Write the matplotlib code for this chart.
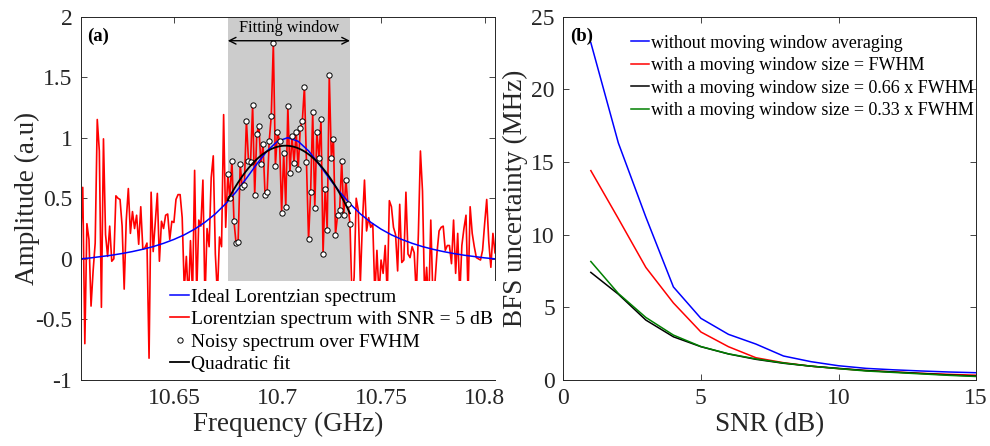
import numpy as np
import matplotlib
matplotlib.use("Agg")
import matplotlib.pyplot as plt

plt.rcParams["font.family"] = ["Liberation Serif", "DejaVu Serif"]
plt.rcParams["font.serif"] = ["Liberation Serif", "DejaVu Serif"]

# ---------------- panel (a) data ----------------
freq_start = 10.605     # GHz
freq_step = 0.001       # GHz
noisy_amp = [
    # 10.605 .. 10.630
    0.18, 0.59, -0.70, 0.29, 0.16, -0.39, -0.10, 0.13, 1.15, 0.89, -0.40, 0.99, 0.20,
    0.02, 0.27, -0.02, 0.00, 0.52, 0.50, 0.49, 0.27, -0.25, 0.32, 0.58, 0.21, 0.39,
    # 10.631 .. 10.653
    0.25, 0.36, 0.12, 0.43, 0.08, 0.09, 0.13, -0.82, 0.55, 0.06, 0.30, 0.54, -0.02,
    0.31, 0.25, 0.36, 0.37, 0.16, 0.31, 0.30, 0.49, 0.53, 0.53,
    # 10.654 .. 10.675
    0.34, -0.25, 0.02, -0.35, 0.15, -0.30, 0.73, -0.30, 0.32, 0.27, 0.65, -0.35, 0.25,
    0.10, 0.67, 0.85, 0.04, -0.30, 0.18, 0.10, 1.19, 0.26,
    # 10.676 .. 10.735 (over FWHM)
    0.70, 0.50, 0.81, 0.31, 0.13, 0.14, 0.78, 0.59, 0.61, 1.14, 0.81, 0.80, 1.27, 0.53,
    1.03, 1.10, 0.78, 0.95, 0.53, 0.55, 0.97, 1.18, 1.78, 0.77, 1.05, 0.97, 0.38, 0.87,
    0.43, 1.26, 0.71, 1.01, 0.79, 1.05, 0.74, 1.08, 1.14, 1.42, 0.80, 0.16, 0.55, 1.21,
    0.42, 1.05, 0.83, 1.15, 0.04, 0.58, 0.24, 1.52, 0.83, 0.99, 0.20, 0.36, 0.40, 0.81,
    0.36, 0.65, 0.45, 0.29,
    # 10.736 .. 10.760
    -0.35, -0.15, 0.50, 0.40, -0.20, 0.30, 0.65, 0.23, 0.34, 0.26, 0.29, -0.30, 0.07,
    -0.30, -0.01, -0.12, 0.11, -0.30, 0.48, 0.43, 0.26, 0.20, -0.10, 0.45, -0.03,
    # 10.761 .. 10.782
    -0.01, 0.55, 0.04, 0.01, 0.10, 0.05, -0.30, 0.20, 0.89, 0.56, -0.30, -0.07, -0.40,
    0.32, -0.30, -0.20, 0.05, 0.23, 0.26, 0.27, 0.07, 0.11,
    # 10.783 .. 10.805
    0.11, -0.04, 0.32, -0.12, 0.21, -0.30, 0.11, 0.25, 0.36, -0.30, 0.43, 0.21, 0.10,
    0.01, 0.00, -0.01, 0.07, 0.29, 0.49, 0.14, -0.07, 0.21, 0.05,
]
ideal_step = 0.005      # GHz
ideal_amp = [
    0.000, 0.008, 0.019, 0.030, 0.044, 0.060, 0.079, 0.101, 0.128, 0.160,
    0.198, 0.245, 0.302, 0.371, 0.455, 0.553, 0.664, 0.782, 0.891, 0.970,
    1.000,
    0.970, 0.891, 0.782, 0.664, 0.553, 0.455, 0.371, 0.302, 0.245, 0.198,
    0.160, 0.128, 0.101, 0.079, 0.060, 0.044, 0.030, 0.019, 0.008, 0.000,
]
fwhm_first = 71         # index of first sample inside the FWHM window
fwhm_last = 130         # index of last sample inside the FWHM window

# ---------------- panel (b) data ----------------
snr_db = [1, 2, 3, 4, 5, 6, 7, 8, 9, 10, 11, 12, 13, 14, 15]
bfs_no_avg = [23.2, 16.3, 11.2, 6.4, 4.24, 3.14, 2.47, 1.65, 1.26, 0.98, 0.80, 0.70, 0.62, 0.55, 0.50]
bfs_fwhm = [14.4, 11.1, 7.74, 5.3, 3.3, 2.29, 1.53, 1.19, 0.95, 0.78, 0.65, 0.55, 0.46, 0.39, 0.33]
bfs_066 = [7.4, 5.9, 4.12, 2.97, 2.29, 1.79, 1.42, 1.15, 0.95, 0.80, 0.65, 0.55, 0.45, 0.35, 0.27]
bfs_033 = [8.15, 5.95, 4.3, 3.09, 2.30, 1.80, 1.45, 1.17, 0.95, 0.78, 0.62, 0.52, 0.42, 0.32, 0.24]

# ---------------- figure ----------------
fig = plt.figure(figsize=(9.9, 4.46), dpi=100)
ax1 = fig.add_axes([0.0815, 0.148, 0.4185, 0.815])
ax2 = fig.add_axes([0.569, 0.148, 0.417, 0.815])

SERIF = ["Liberation Serif", "DejaVu Serif"]
axcol = "#262626"
tick_fs = 17
lab_fs = 19.5

freq = freq_start + freq_step * np.arange(len(noisy_amp))
amp = np.array(noisy_amp)
ideal_f = freq_start + ideal_step * np.arange(len(ideal_amp))
fw = freq[fwhm_first:fwhm_last + 1]
aw = amp[fwhm_first:fwhm_last + 1]
coef = np.polyfit(fw - fw.mean(), aw, 2)
fit = np.polyval(coef, fw - fw.mean())

ax1.axvspan(fw[0], fw[-1], color="#cccccc", lw=0, zorder=0)
l_red, = ax1.plot(freq, amp, color="red", lw=1.2, zorder=2)
l_blue, = ax1.plot(ideal_f, ideal_amp, color="blue", lw=1.1, zorder=2.5)
l_pts, = ax1.plot(fw, aw, ls="none", marker="o", ms=3.8, mfc="white",
                  mec="black", mew=0.7, zorder=3)
l_fit, = ax1.plot(fw, fit, color="black", lw=1.3, zorder=4)

ax1.annotate("", xy=(fw[0], 1.80), xytext=(fw[-1], 1.80),
             arrowprops=dict(arrowstyle="<->", color="black", lw=1.0,
                             mutation_scale=12, shrinkA=0, shrinkB=0), zorder=5)
ax1.text((fw[0] + fw[-1]) / 2, 1.905, "Fitting window", ha="center", va="center",
         fontsize=11.7, color="black", family=SERIF)
ax1.text(0.016, 0.946, "(a)", transform=ax1.transAxes, fontsize=13.5,
         fontweight="bold", va="center", ha="left", family=SERIF)

ax1.set_xlim(freq[0], freq[-1])
ax1.set_ylim(-1, 2)
ax1.set_xticks([10.65, 10.7, 10.75, 10.8])
ax1.set_xticklabels(["10.65", "10.7", "10.75", "10.8"])
ax1.set_yticks([-1, -0.5, 0, 0.5, 1, 1.5, 2])
ax1.set_yticklabels(["-1", "-0.5", "0", "0.5", "1", "1.5", "2"])
ax1.set_xlabel("Frequency (GHz)", fontsize=lab_fs, color=axcol, labelpad=2, family=SERIF)
ax1.set_ylabel("Amplitude (a.u)", fontsize=lab_fs, color=axcol, family=SERIF)
ax1.yaxis.set_label_coords(-0.098, 0.5)

leg1 = ax1.legend([l_blue, l_red, l_pts, l_fit],
                  ["Ideal Lorentzian spectrum", "Lorentzian spectrum with SNR = 5 dB",
                   "Noisy spectrum over FWHM", "Quadratic fit"],
                  loc="lower left", bbox_to_anchor=(0.199, 0.0),
                  prop={"family": SERIF, "size": 14},
                  frameon=True, fancybox=False, framealpha=1, facecolor="white",
                  edgecolor="none", handlelength=1.0, handletextpad=0.1,
                  labelspacing=0.25, borderpad=0.35, borderaxespad=0)
leg1.set_zorder(10)

ax2.plot(snr_db, bfs_no_avg, color="blue", lw=1.1, label="without moving window averaging")
ax2.plot(snr_db, bfs_fwhm, color="red", lw=1.1, label="with a moving window size = FWHM")
ax2.plot(snr_db, bfs_066, color="black", lw=1.1, label="with a moving window size = 0.66 x FWHM")
ax2.plot(snr_db, bfs_033, color="green", lw=1.1, label="with a moving window size = 0.33 x FWHM")
ax2.set_xlim(0, 15)
ax2.set_ylim(0, 25)
ax2.set_xticks([0, 5, 10, 15])
ax2.set_yticks([0, 5, 10, 15, 20, 25])
ax2.set_xticklabels(["0", "5", "10", "15"])
ax2.set_yticklabels(["0", "5", "10", "15", "20", "25"])
ax2.set_xlabel("SNR (dB)", fontsize=lab_fs, color=axcol, labelpad=2, family=SERIF)
ax2.set_ylabel("BFS uncertainty (MHz)", fontsize=lab_fs, color=axcol, family=SERIF)
ax2.yaxis.set_label_coords(-0.085, 0.5)
ax2.text(0.017, 0.945, "(b)", transform=ax2.transAxes, fontsize=13.5,
         fontweight="bold", va="center", ha="left", family=SERIF)
ax2.legend(loc="upper left", bbox_to_anchor=(0.165, 0.95),
           prop={"family": SERIF, "size": 13},
           frameon=False, handlelength=1.0, handletextpad=0.1,
           labelspacing=0.3, borderpad=0, borderaxespad=0)

for ax in (ax1, ax2):
    ax.tick_params(direction="in", top=True, right=True, length=4, width=0.6,
                   labelsize=tick_fs, colors=axcol, pad=6)
    for lab in ax.get_xticklabels() + ax.get_yticklabels():
        lab.set_family(SERIF)
    for s in ax.spines.values():
        s.set_color(axcol)
        s.set_linewidth(0.7)

fig.savefig("out.png", dpi=100)
